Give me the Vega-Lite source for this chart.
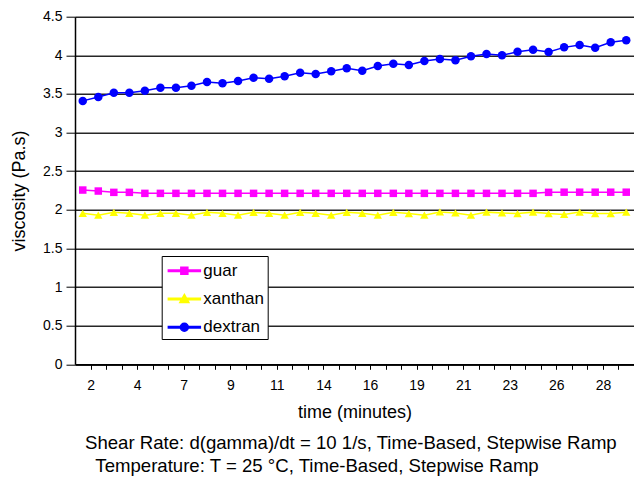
{
  "$schema": "https://vega.github.io/schema/vega-lite/v6.json",
  "width": 559,
  "height": 347.6,
  "autosize": {"type": "none"},
  "padding": {"left": 75, "top": 16.7, "right": 0, "bottom": 112.7},
  "config": {
    "font": "Liberation Sans",
    "view": {"stroke": null},
    "axis": {"labelColor": "black", "titleColor": "black", "titleFontWeight": "normal", "domainColor": "black", "tickColor": "black"}
  },
  "title": {
    "text": ["Shear Rate: d(gamma)/dt = 10 1/s, Time-Based, Stepwise Ramp", "\u200b\u00a0\u00a0Temperature: T = 25 °C, Time-Based, Stepwise Ramp"],
    "orient": "bottom",
    "anchor": "start",
    "frame": "group",
    "dx": 10,
    "offset": 13,
    "fontSize": 18.6,
    "fontWeight": "normal",
    "lineHeight": 23,
    "color": "black"
  },
  "data": {
    "values": [
      {"reading": 1, "polymer": "guar", "viscosity": 2.256},
      {"reading": 2, "polymer": "guar", "viscosity": 2.243},
      {"reading": 3, "polymer": "guar", "viscosity": 2.226},
      {"reading": 4, "polymer": "guar", "viscosity": 2.226},
      {"reading": 5, "polymer": "guar", "viscosity": 2.213},
      {"reading": 6, "polymer": "guar", "viscosity": 2.213},
      {"reading": 7, "polymer": "guar", "viscosity": 2.213},
      {"reading": 8, "polymer": "guar", "viscosity": 2.213},
      {"reading": 9, "polymer": "guar", "viscosity": 2.213},
      {"reading": 10, "polymer": "guar", "viscosity": 2.213},
      {"reading": 11, "polymer": "guar", "viscosity": 2.213},
      {"reading": 12, "polymer": "guar", "viscosity": 2.213},
      {"reading": 13, "polymer": "guar", "viscosity": 2.213},
      {"reading": 14, "polymer": "guar", "viscosity": 2.213},
      {"reading": 15, "polymer": "guar", "viscosity": 2.213},
      {"reading": 16, "polymer": "guar", "viscosity": 2.213},
      {"reading": 17, "polymer": "guar", "viscosity": 2.213},
      {"reading": 18, "polymer": "guar", "viscosity": 2.213},
      {"reading": 19, "polymer": "guar", "viscosity": 2.213},
      {"reading": 20, "polymer": "guar", "viscosity": 2.213},
      {"reading": 21, "polymer": "guar", "viscosity": 2.213},
      {"reading": 22, "polymer": "guar", "viscosity": 2.213},
      {"reading": 23, "polymer": "guar", "viscosity": 2.213},
      {"reading": 24, "polymer": "guar", "viscosity": 2.213},
      {"reading": 25, "polymer": "guar", "viscosity": 2.213},
      {"reading": 26, "polymer": "guar", "viscosity": 2.213},
      {"reading": 27, "polymer": "guar", "viscosity": 2.213},
      {"reading": 28, "polymer": "guar", "viscosity": 2.213},
      {"reading": 29, "polymer": "guar", "viscosity": 2.213},
      {"reading": 30, "polymer": "guar", "viscosity": 2.213},
      {"reading": 31, "polymer": "guar", "viscosity": 2.226},
      {"reading": 32, "polymer": "guar", "viscosity": 2.228},
      {"reading": 33, "polymer": "guar", "viscosity": 2.228},
      {"reading": 34, "polymer": "guar", "viscosity": 2.228},
      {"reading": 35, "polymer": "guar", "viscosity": 2.228},
      {"reading": 36, "polymer": "guar", "viscosity": 2.228},
      {"reading": 1, "polymer": "xanthan", "viscosity": 1.955},
      {"reading": 2, "polymer": "xanthan", "viscosity": 1.93},
      {"reading": 3, "polymer": "xanthan", "viscosity": 1.967},
      {"reading": 4, "polymer": "xanthan", "viscosity": 1.955},
      {"reading": 5, "polymer": "xanthan", "viscosity": 1.93},
      {"reading": 6, "polymer": "xanthan", "viscosity": 1.955},
      {"reading": 7, "polymer": "xanthan", "viscosity": 1.955},
      {"reading": 8, "polymer": "xanthan", "viscosity": 1.93},
      {"reading": 9, "polymer": "xanthan", "viscosity": 1.967},
      {"reading": 10, "polymer": "xanthan", "viscosity": 1.955},
      {"reading": 11, "polymer": "xanthan", "viscosity": 1.93},
      {"reading": 12, "polymer": "xanthan", "viscosity": 1.967},
      {"reading": 13, "polymer": "xanthan", "viscosity": 1.955},
      {"reading": 14, "polymer": "xanthan", "viscosity": 1.93},
      {"reading": 15, "polymer": "xanthan", "viscosity": 1.967},
      {"reading": 16, "polymer": "xanthan", "viscosity": 1.955},
      {"reading": 17, "polymer": "xanthan", "viscosity": 1.93},
      {"reading": 18, "polymer": "xanthan", "viscosity": 1.967},
      {"reading": 19, "polymer": "xanthan", "viscosity": 1.955},
      {"reading": 20, "polymer": "xanthan", "viscosity": 1.93},
      {"reading": 21, "polymer": "xanthan", "viscosity": 1.967},
      {"reading": 22, "polymer": "xanthan", "viscosity": 1.952},
      {"reading": 23, "polymer": "xanthan", "viscosity": 1.93},
      {"reading": 24, "polymer": "xanthan", "viscosity": 1.972},
      {"reading": 25, "polymer": "xanthan", "viscosity": 1.96},
      {"reading": 26, "polymer": "xanthan", "viscosity": 1.93},
      {"reading": 27, "polymer": "xanthan", "viscosity": 1.97},
      {"reading": 28, "polymer": "xanthan", "viscosity": 1.96},
      {"reading": 29, "polymer": "xanthan", "viscosity": 1.952},
      {"reading": 30, "polymer": "xanthan", "viscosity": 1.97},
      {"reading": 31, "polymer": "xanthan", "viscosity": 1.952},
      {"reading": 32, "polymer": "xanthan", "viscosity": 1.94},
      {"reading": 33, "polymer": "xanthan", "viscosity": 1.97},
      {"reading": 34, "polymer": "xanthan", "viscosity": 1.952},
      {"reading": 35, "polymer": "xanthan", "viscosity": 1.952},
      {"reading": 36, "polymer": "xanthan", "viscosity": 1.97},
      {"reading": 1, "polymer": "dextran", "viscosity": 3.41},
      {"reading": 2, "polymer": "dextran", "viscosity": 3.46},
      {"reading": 3, "polymer": "dextran", "viscosity": 3.516},
      {"reading": 4, "polymer": "dextran", "viscosity": 3.516},
      {"reading": 5, "polymer": "dextran", "viscosity": 3.54},
      {"reading": 6, "polymer": "dextran", "viscosity": 3.58},
      {"reading": 7, "polymer": "dextran", "viscosity": 3.58},
      {"reading": 8, "polymer": "dextran", "viscosity": 3.607},
      {"reading": 9, "polymer": "dextran", "viscosity": 3.654},
      {"reading": 10, "polymer": "dextran", "viscosity": 3.637},
      {"reading": 11, "polymer": "dextran", "viscosity": 3.667},
      {"reading": 12, "polymer": "dextran", "viscosity": 3.71},
      {"reading": 13, "polymer": "dextran", "viscosity": 3.697},
      {"reading": 14, "polymer": "dextran", "viscosity": 3.728},
      {"reading": 15, "polymer": "dextran", "viscosity": 3.775},
      {"reading": 16, "polymer": "dextran", "viscosity": 3.758},
      {"reading": 17, "polymer": "dextran", "viscosity": 3.793},
      {"reading": 18, "polymer": "dextran", "viscosity": 3.832},
      {"reading": 19, "polymer": "dextran", "viscosity": 3.8},
      {"reading": 20, "polymer": "dextran", "viscosity": 3.862},
      {"reading": 21, "polymer": "dextran", "viscosity": 3.891},
      {"reading": 22, "polymer": "dextran", "viscosity": 3.875},
      {"reading": 23, "polymer": "dextran", "viscosity": 3.926},
      {"reading": 24, "polymer": "dextran", "viscosity": 3.952},
      {"reading": 25, "polymer": "dextran", "viscosity": 3.935},
      {"reading": 26, "polymer": "dextran", "viscosity": 3.987},
      {"reading": 27, "polymer": "dextran", "viscosity": 4.017},
      {"reading": 28, "polymer": "dextran", "viscosity": 4.0},
      {"reading": 29, "polymer": "dextran", "viscosity": 4.047},
      {"reading": 30, "polymer": "dextran", "viscosity": 4.073},
      {"reading": 31, "polymer": "dextran", "viscosity": 4.043},
      {"reading": 32, "polymer": "dextran", "viscosity": 4.103},
      {"reading": 33, "polymer": "dextran", "viscosity": 4.133},
      {"reading": 34, "polymer": "dextran", "viscosity": 4.099},
      {"reading": 35, "polymer": "dextran", "viscosity": 4.168},
      {"reading": 36, "polymer": "dextran", "viscosity": 4.194}
    ]
  },
  "encoding": {
    "x": {
      "field": "reading",
      "type": "quantitative",
      "scale": {"domain": [0.5, 36.5], "nice": false, "zero": false},
      "axis": {
        "title": "time (minutes)",
        "values": [1.5, 2.5, 3.5, 4.5, 5.5, 6.5, 7.5, 8.5, 9.5, 10.5, 11.5, 12.5, 13.5, 14.5, 15.5, 16.5, 17.5, 18.5, 19.5, 20.5, 21.5, 22.5, 23.5, 24.5, 25.5, 26.5, 27.5, 28.5, 29.5, 30.5, 31.5, 32.5, 33.5, 34.5, 35.5],
        "labelExpr": "(datum.value - 1.5) % 3 == 0 ? ['2','4','7','9','11','14','16','19','21','23','26','28'][(datum.value - 1.5) / 3] : ''",
        "grid": false,
        "domainWidth": 1.5,
        "tickSize": 5,
        "tickWidth": 1,
        "labelFontSize": 14,
        "labelPadding": 9,
        "labelFlush": false,
        "labelOverlap": false,
        "titleFontSize": 18,
        "titlePadding": 11
      }
    },
    "y": {
      "field": "viscosity",
      "type": "quantitative",
      "scale": {"domain": [0, 4.5], "nice": false},
      "axis": {
        "title": "viscosity (Pa.s)",
        "values": [0, 0.5, 1, 1.5, 2, 2.5, 3, 3.5, 4, 4.5],
        "format": "~g",
        "grid": true,
        "gridColor": "#262626",
        "gridWidth": 1.5,
        "gridOpacity": 1,
        "domainWidth": 1.5,
        "tickSize": 9,
        "labelFontSize": 14,
        "labelPadding": 4,
        "titleFontSize": 18,
        "titlePadding": 14
      }
    }
  },
  "layer": [
    {
      "mark": {"type": "line", "strokeWidth": 1.5},
      "encoding": {
        "color": {
          "field": "polymer",
          "type": "nominal",
          "scale": {"domain": ["guar", "xanthan", "dextran"], "range": ["#ff00ff", "#ffff00", "#0000ff"]},
          "legend": {
            "title": null,
            "orient": "none",
            "legendX": 86.7,
            "legendY": 239.3,
            "strokeColor": "black",
            "fillColor": "white",
            "padding": 3.65,
            "rowPadding": 9.3,
            "labelFontSize": 17,
            "labelColor": "black",
            "labelOffset": 16,
            "symbolSize": 400,
            "encode": {
              "symbols": {
                "update": {
                  "shape": {"signal": "datum.value === 'guar' ? 'M-0.8,-0.075H2.4V0.075H-0.8Z M0.45,-0.35H1.15V0.35H0.45Z' : datum.value === 'xanthan' ? 'M-0.8,-0.075H2.4V0.075H-0.8Z M0.8,-0.45L1.25,0.35H0.35Z' : 'M-0.8,-0.075H2.4V0.075H-0.8Z M0.4,0A0.4,0.4 0 1,1 1.2,0A0.4,0.4 0 1,1 0.4,0Z'"},
                  "fill": {"signal": "datum.value === 'guar' ? '#ff00ff' : datum.value === 'xanthan' ? '#ffff00' : '#0000ff'"},
                  "stroke": {"value": "transparent"}
                }
              }
            }
          }
        }
      }
    },
    {
      "transform": [{"filter": "datum.polymer === 'guar'"}],
      "mark": {"type": "point", "filled": true, "opacity": 1, "shape": "square", "size": 56, "color": "#ff00ff"}
    },
    {
      "transform": [{"filter": "datum.polymer === 'xanthan'"}],
      "mark": {"type": "point", "filled": true, "opacity": 1, "shape": "triangle-up", "size": 70, "color": "#ffff00"}
    },
    {
      "transform": [{"filter": "datum.polymer === 'dextran'"}],
      "mark": {"type": "point", "filled": true, "opacity": 1, "shape": "circle", "size": 72, "color": "#0000ff"}
    }
  ]
}
